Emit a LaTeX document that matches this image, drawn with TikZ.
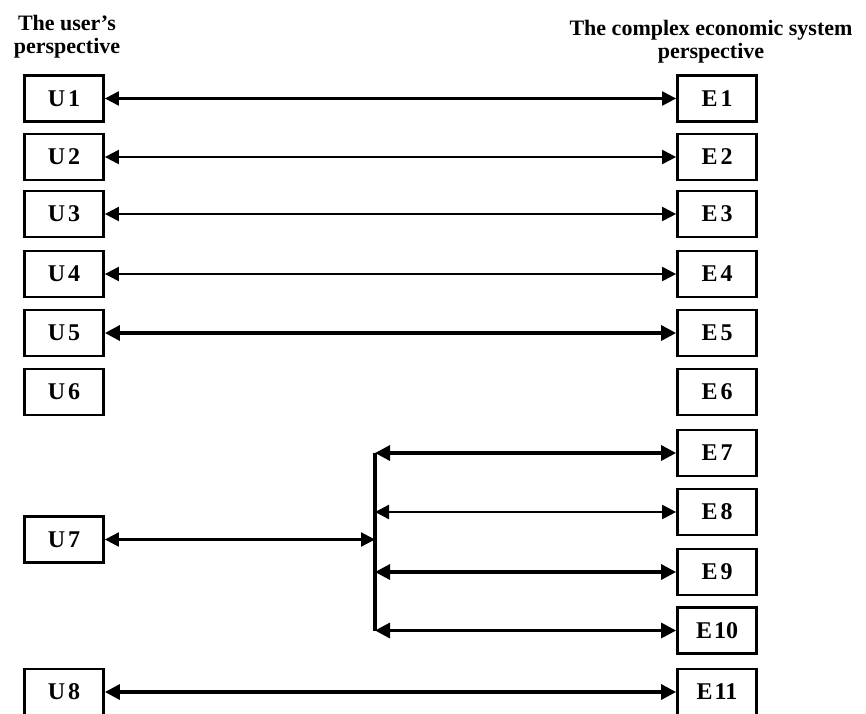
\documentclass[tikz,border=0pt]{standalone}
\usepackage{fontspec}
\setmainfont{Liberation Serif}
\usetikzlibrary{arrows.meta}
\begin{document}
\begin{tikzpicture}[x=1pt,y=-1pt,
  box/.style={draw,line width=2.8pt,minimum width=79pt,minimum height=46pt,inner sep=0pt,
    font=\fontsize{24}{24}\selectfont\bfseries},
  title/.style={align=center,inner sep=0pt,font=\fontsize{22}{23}\selectfont\bfseries},
  thin/.style={line width=2.2pt,{Triangle[length=14pt,width=14pt]}-{Triangle[length=14pt,width=14pt]}},
  thick/.style={line width=3.2pt,{Triangle[length=15pt,width=15pt]}-{Triangle[length=15pt,width=15pt]}}]
\useasboundingbox (0,0) rectangle (866,713);
\node[title,anchor=base] (tu) at (67,53) {The user's\\perspective};
\node[title,anchor=base] (te) at (711,58) {The complex economic system\\perspective};
% U boxes
\node[box] (U1) at (64,98.5) {U\kern3pt1};
\node[box] (U2) at (64,157) {U\kern3pt2};
\node[box] (U3) at (64,214) {U\kern3pt3};
\node[box] (U4) at (64,274) {U\kern3pt4};
\node[box] (U5) at (64,333) {U\kern3pt5};
\node[box] (U6) at (64,392) {U\kern3pt6};
\node[box] (U7) at (64,539.5) {U\kern3pt7};
\node[box] (U8) at (64,692) {U\kern3pt8};
% E boxes
\node[box] (E1) at (717,98.5) {E\kern3pt1};
\node[box] (E2) at (717,157) {E\kern3pt2};
\node[box] (E3) at (717,214) {E\kern3pt3};
\node[box] (E4) at (717,274) {E\kern3pt4};
\node[box] (E5) at (717,333) {E\kern3pt5};
\node[box] (E6) at (717,392) {E\kern3pt6};
\node[box] (E7) at (717,453) {E\kern3pt7};
\node[box] (E8) at (717,512) {E\kern3pt8};
\node[box] (E9) at (717,572) {E\kern3pt9};
\node[box] (E10) at (717,630.5) {E\kern2pt10};
\node[box] (E11) at (717,692) {E\kern2pt11};
% junction
\coordinate (J) at (375,539.5);
\coordinate (Jt) at (375,453);
\coordinate (Jb) at (375,630.5);
\coordinate (J8) at (375,512);
\coordinate (J9) at (375,572);
\draw[line width=3.2pt] (Jt) -- (Jb);
% arrows
\draw[thin] (U1.east) -- (E1.west);
\draw[thin] (U2.east) -- (E2.west);
\draw[thin] (U3.east) -- (E3.west);
\draw[thin] (U4.east) -- (E4.west);
\draw[thick] (U5.east) -- (E5.west);
\draw[thin] (U7.east) -- (J);
\draw[thick] (Jt) -- (E7.west);
\draw[thin] (J8) -- (E8.west);
\draw[thick] (J9) -- (E9.west);
\draw[thick] (Jb) -- (E10.west);
\draw[thick] (U8.east) -- (E11.west);
\end{tikzpicture}
\end{document}
